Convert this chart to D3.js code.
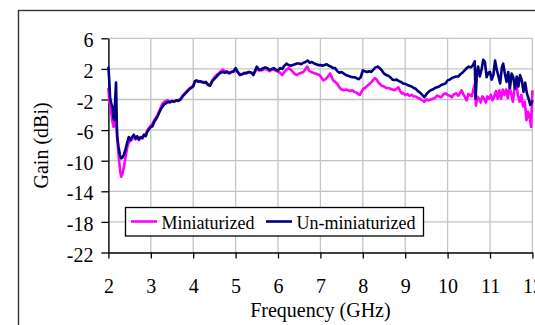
<!DOCTYPE html>
<html>
<head>
<meta charset="utf-8">
<script src="https://cdn.jsdelivr.net/npm/d3@7"></script>
<style>
  html, body { margin: 0; padding: 0; background: #fff; overflow: hidden; }
  svg text { font-family: "Liberation Serif", "Times New Roman", Tinos, serif; fill: #000; }
</style>
</head>
<body>
<svg id="chart" width="535" height="325"></svg>
<script>
// Measured gain vs. frequency (GHz, dBi)
const freqMini = [2.00,2.02,2.05,2.09,2.12,2.15,2.17,2.19,2.21,2.25,2.28,2.30,2.33,2.36,2.40,2.44,2.48,2.52,2.56,2.60,2.64,2.68,2.72,2.76,2.80,2.84,2.88,2.92,2.96,3.00,3.04,3.08,3.12,3.16,3.20,3.24,3.28,3.32,3.36,3.40,3.45,3.50,3.55,3.60,3.65,3.70,3.75,3.80,3.85,3.90,3.95,4.00,4.04,4.08,4.12,4.16,4.20,4.25,4.30,4.35,4.40,4.45,4.50,4.55,4.60,4.65,4.70,4.75,4.80,4.85,4.90,4.95,5.00,5.05,5.10,5.15,5.20,5.26,5.32,5.38,5.42,5.46,5.50,5.55,5.60,5.65,5.70,5.75,5.80,5.85,5.90,5.95,6.00,6.05,6.10,6.15,6.20,6.25,6.30,6.35,6.40,6.45,6.50,6.55,6.60,6.65,6.69,6.73,6.78,6.83,6.88,6.93,6.98,7.03,7.07,7.11,7.15,7.19,7.23,7.27,7.30,7.35,7.40,7.45,7.50,7.55,7.60,7.65,7.70,7.75,7.80,7.85,7.90,7.93,7.97,8.01,8.05,8.09,8.13,8.17,8.21,8.25,8.29,8.33,8.37,8.41,8.45,8.50,8.55,8.60,8.65,8.70,8.75,8.80,8.84,8.88,8.92,8.96,9.00,9.05,9.10,9.15,9.20,9.25,9.30,9.35,9.40,9.45,9.50,9.55,9.60,9.65,9.70,9.75,9.80,9.85,9.90,9.95,10.00,10.05,10.10,10.15,10.20,10.25,10.30,10.33,10.37,10.41,10.45,10.49,10.53,10.57,10.61,10.64,10.67,10.70,10.74,10.78,10.82,10.86,10.90,10.94,10.98,11.02,11.06,11.10,11.14,11.18,11.22,11.26,11.30,11.34,11.38,11.42,11.46,11.50,11.54,11.58,11.62,11.66,11.70,11.74,11.78,11.82,11.86,11.90,11.94,11.97,12.00];
const gainMini = [-0.5,-2.2,-2.9,-4.7,-5.6,-5.2,-3.5,-5.6,-7.3,-9.9,-11.4,-12.1,-11.7,-11.0,-9.7,-8.4,-7.6,-7.4,-7.2,-6.8,-7.2,-7.0,-7.3,-7.0,-7.1,-6.7,-6.6,-6.0,-5.7,-5.4,-5.2,-4.7,-4.4,-4.0,-3.5,-3.0,-2.5,-2.3,-2.2,-2.1,-2.3,-2.2,-2.3,-2.1,-2.1,-1.9,-1.5,-1.2,-0.9,-0.6,-0.4,-0.2,0.3,0.4,0.4,0.3,0.3,0.3,0.2,0.0,-0.1,0.5,0.9,1.2,1.4,1.7,1.9,1.7,1.7,1.5,1.6,1.6,1.8,1.6,1.3,1.3,1.5,1.4,1.6,1.4,1.3,1.6,2.0,1.8,1.8,1.9,2.0,1.9,1.7,1.9,1.9,1.8,1.6,1.5,1.2,1.6,1.9,2.1,1.9,1.6,1.3,1.2,1.4,1.5,1.6,2.0,2.3,1.8,1.6,1.5,1.4,1.3,1.2,0.8,0.5,0.6,0.8,1.1,1.4,0.9,0.5,0.3,0.0,-0.4,-0.7,-0.8,-0.7,-0.8,-0.9,-0.8,-1.0,-1.1,-1.3,-1.4,-1.0,-0.6,-0.5,-0.3,-0.1,0.1,0.3,0.6,0.8,0.6,0.2,0.0,-0.2,-0.3,-0.5,-0.5,-0.6,-0.7,-0.8,-0.6,-0.4,-0.9,-1.2,-1.2,-1.4,-1.3,-1.5,-1.4,-1.6,-1.6,-1.8,-1.9,-2.1,-2.3,-2.0,-2.1,-2.0,-1.9,-1.8,-1.5,-1.6,-1.7,-1.3,-1.2,-1.4,-1.5,-1.7,-1.3,-1.2,-1.5,-1.1,-0.8,-1.3,-1.7,-2.1,-1.3,-1.4,-1.6,-0.6,-0.1,-2.8,-1.6,-1.9,-2.4,-1.6,-1.9,-2.4,-1.6,-1.9,-1.4,-2.1,-1.6,-0.9,-1.9,-0.8,-1.9,-0.7,-1.4,-0.7,-1.8,-0.4,-1.2,-2.3,-0.5,0.1,-1.5,-2.3,-1.4,-2.9,-2.3,-4.7,-3.6,-4.5,-5.6,-0.8];

const freqUnmini = [2.00,2.02,2.04,2.07,2.10,2.12,2.14,2.16,2.18,2.20,2.21,2.24,2.27,2.30,2.33,2.36,2.40,2.44,2.48,2.52,2.56,2.60,2.64,2.68,2.72,2.76,2.80,2.84,2.88,2.92,2.96,3.00,3.04,3.08,3.12,3.16,3.20,3.24,3.28,3.32,3.36,3.40,3.45,3.50,3.55,3.60,3.65,3.70,3.75,3.80,3.85,3.90,3.95,4.00,4.04,4.08,4.12,4.16,4.20,4.25,4.30,4.35,4.40,4.45,4.50,4.55,4.60,4.65,4.70,4.75,4.80,4.85,4.90,4.95,5.00,5.05,5.10,5.15,5.20,5.26,5.32,5.38,5.42,5.46,5.50,5.55,5.60,5.65,5.70,5.75,5.80,5.85,5.90,5.95,6.00,6.05,6.10,6.15,6.20,6.25,6.30,6.35,6.40,6.45,6.50,6.55,6.60,6.65,6.70,6.75,6.80,6.85,6.90,6.95,7.00,7.05,7.10,7.15,7.20,7.25,7.30,7.35,7.40,7.45,7.50,7.55,7.60,7.65,7.70,7.75,7.80,7.85,7.90,7.95,8.00,8.05,8.10,8.15,8.20,8.25,8.30,8.35,8.40,8.45,8.50,8.55,8.60,8.65,8.70,8.75,8.80,8.85,8.90,8.95,9.00,9.05,9.10,9.15,9.20,9.25,9.30,9.35,9.40,9.45,9.50,9.55,9.60,9.65,9.70,9.75,9.80,9.85,9.90,9.95,10.00,10.05,10.10,10.15,10.20,10.25,10.30,10.35,10.40,10.45,10.50,10.55,10.60,10.64,10.66,10.69,10.72,10.76,10.80,10.84,10.88,10.92,10.96,11.00,11.04,11.08,11.12,11.16,11.20,11.24,11.28,11.31,11.35,11.39,11.43,11.47,11.51,11.55,11.59,11.63,11.67,11.71,11.75,11.79,11.83,11.87,11.91,11.95,11.98,12.00];
const gainUnmini = [2.3,0.5,-1.8,-2.6,-3.0,-4.4,-4.7,-2.0,0.2,-5.5,-7.0,-8.2,-9.2,-9.7,-9.6,-9.3,-8.6,-7.7,-6.9,-7.3,-6.9,-6.6,-7.1,-6.8,-7.2,-6.9,-7.0,-6.6,-6.8,-6.2,-5.9,-5.6,-5.5,-4.9,-4.6,-4.2,-3.7,-3.2,-2.9,-2.6,-2.5,-2.3,-2.4,-2.2,-2.3,-2.1,-2.2,-2.0,-1.6,-1.3,-1.0,-0.7,-0.5,-0.3,0.4,0.5,0.3,0.4,0.3,0.2,0.3,-0.1,-0.2,0.4,0.7,1.0,1.3,1.5,1.6,1.5,1.6,1.4,1.6,1.7,2.1,1.6,1.2,1.3,1.4,1.5,1.6,1.5,1.2,1.8,2.3,1.9,1.9,2.1,2.2,2.1,1.85,2.0,2.1,1.9,1.8,2.1,2.0,2.4,2.7,2.5,2.4,2.5,2.6,2.7,2.7,2.6,2.8,2.9,3.1,2.8,2.9,2.7,2.6,2.5,2.5,2.4,2.5,2.6,2.4,2.3,2.1,2.1,1.7,1.5,1.6,1.4,1.2,1.1,1.0,0.9,0.9,0.8,0.65,0.9,1.8,1.7,1.6,1.7,1.6,1.9,2.2,2.3,2.1,1.8,1.4,1.2,1.1,0.9,0.6,0.55,0.6,0.4,0.3,0.1,0.05,-0.1,-0.2,-0.3,-0.5,-0.6,-0.9,-1.1,-1.4,-1.7,-1.3,-1.0,-0.8,-0.7,-0.5,-0.4,-0.3,-0.1,0.0,0.1,0.5,0.6,0.8,0.9,1.0,1.0,1.3,1.5,1.8,2.1,2.3,2.2,2.5,3.0,-1.9,1.4,2.3,1.0,1.9,3.2,2.9,0.9,1.5,1.6,0.6,1.2,3.1,1.9,1.0,0.1,2.2,2.7,1.4,0.3,1.6,-0.5,1.4,0.9,-0.6,1.0,-0.3,1.2,0.5,-1.0,0.2,-1.2,-1.9,-2.7,-2.5,-2.1];

const seriesNames = ["Miniaturized", "Un-miniaturized"];
const seriesColors = ["#ff00ff", "#000080"];
const xTicks = [2, 3, 4, 5, 6, 7, 8, 9, 10, 11, 12];
const yTicks = [6, 2, -2, -6, -10, -14, -18, -22];

const serifFont = '"Liberation Serif", "Times New Roman", Tinos, serif';

const svg = d3.select("#chart");
const plot = { left: 108.4, right: 532.4, top: 38.3, bottom: 252.5 };

const x = d3.scaleLinear().domain([2, 12]).range([plot.left, plot.right]);
const y = d3.scaleLinear().domain([-22, 6]).range([plot.bottom, plot.top]);

// Outer chart frame (runs past the right and bottom edges)
svg.append("rect")
  .attr("x", 18.5).attr("y", 10.5)
  .attr("width", 600).attr("height", 400)
  .attr("fill", "none").attr("stroke", "#333").attr("stroke-width", 1.4);

// Gridlines
const grid = svg.append("g").attr("stroke", "#c4c4c4").attr("stroke-width", 1.3);
grid.selectAll("line.h").data(yTicks.filter(t => t !== -22)).join("line")
  .attr("x1", plot.left).attr("x2", plot.right)
  .attr("y1", d => y(d)).attr("y2", d => y(d));
grid.selectAll("line.v").data(xTicks.filter(t => t !== 2)).join("line")
  .attr("x1", d => x(d)).attr("x2", d => x(d))
  .attr("y1", plot.top).attr("y2", plot.bottom);

// Axes
const yAxis = svg.append("g")
  .attr("transform", `translate(${plot.left},0)`)
  .call(d3.axisLeft(y).tickValues(yTicks).tickSize(7).tickSizeOuter(0).tickPadding(8)
    .tickFormat(d => d));
const xAxis = svg.append("g")
  .attr("transform", `translate(0,${plot.bottom})`)
  .call(d3.axisBottom(x).tickValues(xTicks).tickSize(6).tickSizeOuter(0).tickPadding(20)
    .tickFormat(d => d));

[yAxis, xAxis].forEach(a => {
  a.attr("font-family", serifFont).attr("font-size", 20);
  a.select(".domain").attr("stroke", "#000").attr("stroke-width", 1.4);
  a.selectAll(".tick line").attr("stroke", "#000").attr("stroke-width", 1.3);
  a.selectAll(".tick text").attr("fill", "#000");
});
yAxis.selectAll(".tick text").attr("dy", "0.43em");

// Data lines
const line = d3.line().x(d => x(d[0])).y(d => y(d[1]));
const series = [
  d3.zip(freqMini, gainMini),
  d3.zip(freqUnmini, gainUnmini)
];
svg.append("g").selectAll("path").data(series).join("path")
  .attr("d", line)
  .attr("fill", "none")
  .attr("stroke", (d, i) => seriesColors[i])
  .attr("stroke-width", 2.6)
  .attr("stroke-linejoin", "round");

// Axis titles
svg.append("text")
  .attr("x", (plot.left + plot.right) / 2).attr("y", 316.5)
  .attr("text-anchor", "middle")
  .attr("font-family", serifFont).attr("font-size", 20)
  .text("Frequency (GHz)");
svg.append("text")
  .attr("transform", `translate(48,${(plot.top + plot.bottom) / 2}) rotate(-90)`)
  .attr("text-anchor", "middle")
  .attr("font-family", serifFont).attr("font-size", 20)
  .text("Gain (dBi)");

// Legend
const legend = svg.append("g");
legend.append("rect")
  .attr("x", 125.5).attr("y", 207.5).attr("width", 298).attr("height", 28.5)
  .attr("fill", "#fff").attr("stroke", "#000").attr("stroke-width", 1.3);
const legendX = [131, 266];
seriesNames.forEach((name, i) => {
  legend.append("line")
    .attr("x1", legendX[i]).attr("x2", legendX[i] + 26)
    .attr("y1", 221.5).attr("y2", 221.5)
    .attr("stroke", seriesColors[i]).attr("stroke-width", 2.6);
  legend.append("text")
    .attr("x", legendX[i] + 30.5).attr("y", 228.5)
    .attr("font-family", serifFont).attr("font-size", 18)
    .text(name);
});
</script>
</body>
</html>
